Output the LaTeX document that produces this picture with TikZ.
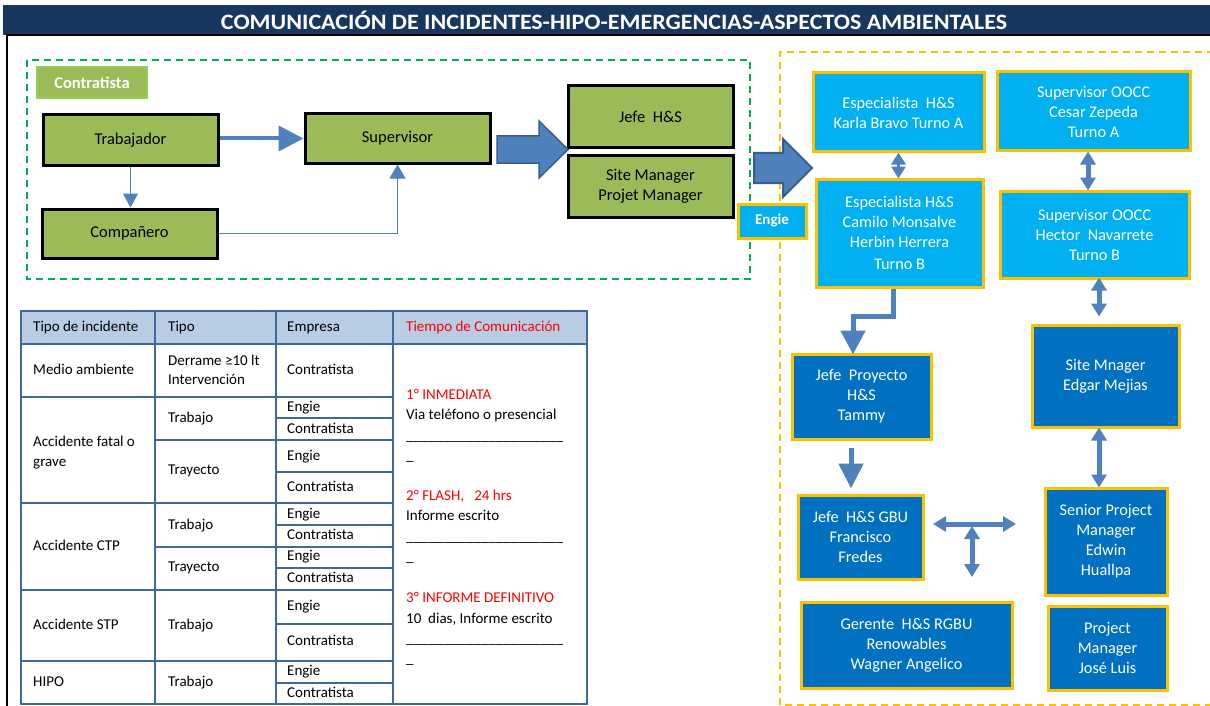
\documentclass[tikz,border=0pt]{standalone}
\usepackage{fontspec}
\setmainfont{Carlito}
\usetikzlibrary{arrows.meta,calc}
\definecolor{navy}{HTML}{17375E}
\definecolor{gfill}{HTML}{9BBB59}
\definecolor{glabel}{HTML}{92D050}
\definecolor{gdash}{HTML}{00B050}
\definecolor{odash}{HTML}{FFC000}
\definecolor{lblue}{HTML}{00B0F0}
\definecolor{dblue}{HTML}{0070C0}
\definecolor{ablue}{HTML}{4F81BD}
\definecolor{aedge}{HTML}{385D8A}
\definecolor{tline}{HTML}{41679B}
\definecolor{thead}{HTML}{B8CCE4}
\definecolor{tred}{HTML}{FF0000}
\begin{document}
\begin{tikzpicture}[x=1pt,y=-1pt,
  gbox/.style={draw=black,line width=3pt,fill=gfill,inner sep=0pt,align=center,font=\fontsize{16.5}{20}\selectfont},
  bbox/.style={draw=odash,line width=3pt,fill=lblue,text=white,inner sep=0pt,align=center,font=\fontsize{16.3}{20}\selectfont},
  dbox/.style={bbox,fill=dblue},
  tt/.style={anchor=west,inner sep=0pt,text height=10pt,text depth=3pt,font=\fontsize{15}{18}\selectfont},
  tb/.style={anchor=base west,inner sep=0pt,font=\fontsize{15}{18}\selectfont},
  conn/.style={draw=ablue,color=ablue},
  dhead/.style={{Triangle[width=15pt,length=13pt]}-{Triangle[width=15pt,length=13pt]}}
]
\useasboundingbox (0,0) rectangle (1210,706);
% title
\fill[navy] (3,5) rectangle (1210,35);
\node[font=\fontsize{22}{24}\selectfont\bfseries,text=white,inner sep=0pt,xscale=1.09] (title) at (614,20.5) {COMUNICACIÓN DE INCIDENTES-HIPO-EMERGENCIAS-ASPECTOS AMBIENTALES};
\draw[line width=1.5pt] (7,706) -- (7,35) -- (1210,35);
% dashed frames
\draw[gdash,line width=2pt,dash pattern=on 7pt off 5pt] (27,60) rectangle (750,279);
\draw[odash,line width=2pt,dash pattern=on 7pt off 5pt] (1214,52) -- (780,52) -- (780,705) -- (1214,705);
% left flow
\node[draw=glabel,line width=2pt,fill=gfill,text=white,font=\fontsize{16.5}{18}\selectfont\bfseries,minimum width=110pt,minimum height=31pt,inner sep=0pt] (contr) at (92,82.5) {Contratista};
\node[gbox,minimum width=175pt,minimum height=50pt] (trab) at (130.5,140) {Trabajador};
\node[gbox,minimum width=175pt,minimum height=49pt] (comp) at (129.5,233.5) {Compañero};
\node[gbox,minimum width=185pt,minimum height=49pt] (sup) at (397.5,138.5) {Supervisor};
\node[gbox,minimum width=165pt,minimum height=62pt] (jefe) at (650.5,117) {Jefe\ \ H\&S};
\node[gbox,minimum width=165pt,minimum height=61pt] (site) at (650.5,186.5) {Site Manager\\Projet Manager};
\draw[conn,line width=4pt,-{Triangle[width=25pt,length=25pt]}] (trab.east |- sup.west) -- (sup.west);
\draw[conn,line width=1pt,-{Triangle[width=15pt,length=14pt]}] (trab.south) -- (trab.south |- comp.north);
\draw[conn,line width=1pt,-{Triangle[width=16pt,length=14pt]}] (comp.east) -| (sup.south);
% block arrows
\filldraw[fill=ablue,draw=aedge,line width=1.5pt] (497,136) -- (539,136) -- (539,121) -- (568,149.5) -- (539,178) -- (539,163) -- (497,163) -- cycle;
\filldraw[fill=ablue,draw=aedge,line width=2pt] (754,153) -- (783,153) -- (783,139) -- (812,168) -- (783,197) -- (783,183) -- (754,183) -- cycle;
\node[draw=odash,line width=3pt,fill=lblue,text=white,font=\fontsize{15}{18}\selectfont\bfseries,minimum width=68pt,minimum height=34pt,inner sep=0pt] (engie) at (772,221) {Engie};
% right boxes
\node[bbox,minimum width=171pt,minimum height=79pt] (esp1) at (898.5,112.5) {Especialista\ \ H\&S\\Karla Bravo Turno A};
\node[bbox,minimum width=167pt,minimum height=108pt] (esp2) at (899.5,233) {Especialista H\&S\\Camilo Monsalve\\Herbin Herrera\\[2pt]Turno B};
\node[bbox,minimum width=193pt,minimum height=79pt] (sup1) at (1093.5,111.5) {Supervisor OOCC\\Cesar Zepeda\\Turno A};
\node[bbox,minimum width=189pt,minimum height=87pt] (sup2) at (1094.5,234.5) {Supervisor OOCC\\Hector\ \ Navarrete\\Turno B};
\node[dbox,minimum width=147pt,minimum height=102pt] (sitem) at (1105.5,376) {Site Mnager\\Edgar Mejias};
\node[dbox,minimum width=139pt,minimum height=85pt] (jefep) at (861.5,396.5) {Jefe\ \ Proyecto\\H\&S\\Tammy};
\node[dbox,minimum width=125pt,minimum height=84pt] (gbu) at (860.5,537) {Jefe\ \ H\&S GBU\\Francisco\\Fredes};
\node[dbox,minimum width=122pt,minimum height=107pt] (senior) at (1106,541.5) {Senior Project\\Manager\\Edwin\\Huallpa};
\node[dbox,minimum width=211pt,minimum height=86pt] (ger) at (906.5,645) {Gerente\ \ H\&S RGBU\\Renowables\\Wagner Angelico};
\node[dbox,minimum width=119pt,minimum height=84pt] (pm) at (1107.5,648) {Project\\Manager\\José Luis};
% right connectors
\draw[conn,line width=3pt,{Triangle[width=14pt,length=12pt]}-{Triangle[width=14pt,length=12pt]}] ([yshift=1pt]esp1.south) -- ([yshift=-1pt]esp1.south |- esp2.north);
\draw[conn,line width=5pt,dhead] ([xshift=-5.5pt,yshift=1pt]sup1.south) -- ([xshift=-5.5pt,yshift=-1pt]sup1.south |- sup2.north);
\draw[conn,line width=5pt,dhead,shorten >=7pt] ([xshift=4.5pt,yshift=2pt]sup2.south) -- ([xshift=4.5pt]sup2.south |- sitem.north);
\draw[conn,line width=5pt,dhead] ([xshift=-6.5pt,yshift=1pt]sitem.south) -- ([xshift=-6.5pt,yshift=-1pt]sitem.south |- senior.north);
\draw[conn,line width=5pt,-{Triangle[width=24pt,length=24pt]}] ([xshift=-6.5pt]esp2.south) -- ++(0,28) -| ([xshift=-8.5pt,yshift=-2pt]jefep.north);
\draw[conn,line width=5pt,-{Triangle[width=24pt,length=25pt]},shorten <=7pt,shorten >=5pt] ([xshift=-10.5pt]jefep.south) -- ([xshift=-10.5pt]jefep.south |- gbu.north);
\coordinate (tl) at (933,524);
\coordinate (tr) at (1016,524);
\coordinate (tm) at (972,526);
\coordinate (tbot) at (972,577);
\draw[conn,line width=5pt,dhead] (tl) -- (tr);
\draw[conn,line width=5pt,dhead] (tm) -- (tbot);
% table
\fill[thead] (21,311) rectangle (587,344);
\begin{scope}[tline,line width=2pt]
\draw (21,311) rectangle (587,704);
\draw (155,311) -- (155,704) (276,311) -- (276,704) (393,311) -- (393,704);
\draw (21,344) -- (587,344);
\draw (21,397) -- (393,397) (21,503) -- (393,503) (21,590) -- (393,590) (21,661) -- (393,661);
\draw (155,440) -- (393,440) (155,547) -- (393,547);
\draw (276,418) -- (393,418) (276,472) -- (393,472) (276,525) -- (393,525) (276,568) -- (393,568) (276,624) -- (393,624) (276,683) -- (393,683);
\end{scope}
\node[tt] (h1) at (33,328) {Tipo de incidente};
\node[tt] (h2) at (168,328) {Tipo};
\node[tt] (h3) at (287,328) {Empresa};
\node[tt,text=tred] (h4) at (406,328) {Tiempo de Comunicación};
\node[tt] (r1a) at (33,371) {Medio ambiente};
\node[tt] (r1b) at (168,362) {Derrame ≥10 lt};
\node[tt] (r1c) at (168,381) {Intervención};
\node[tt] (r1d) at (287,371) {Contratista};
\node[tt] (r2a) at (33,443) {Accidente fatal o};
\node[tt] (r2b) at (33,463) {grave};
\node[tt] (r2c) at (168,419) {Trabajo};
\node[tt] (r2d) at (168,471) {Trayecto};
\node[tt] (r2e) at (287,408) {Engie};
\node[tt] (r2f) at (287,430) {Contratista};
\node[tt] (r2g) at (287,457) {Engie};
\node[tt] (r2h) at (287,488) {Contratista};
\node[tt] (r3a) at (33,547) {Accidente CTP};
\node[tt] (r3b) at (168,526) {Trabajo};
\node[tt] (r3c) at (168,568) {Trayecto};
\node[tt] (r3d) at (287,515) {Engie};
\node[tt] (r3e) at (287,536) {Contratista};
\node[tt] (r3f) at (287,557) {Engie};
\node[tt] (r3g) at (287,579) {Contratista};
\node[tt] (r4a) at (33,626) {Accidente STP};
\node[tt] (r4b) at (168,626) {Trabajo};
\node[tt] (r4c) at (287,607) {Engie};
\node[tt] (r4d) at (287,642) {Contratista};
\node[tt] (r5a) at (33,683) {HIPO};
\node[tt] (r5b) at (168,683) {Trabajo};
\node[tt] (r5c) at (287,672) {Engie};
\node[tt] (r5d) at (287,694) {Contratista};
% tiempo column
\node[tb,text=tred] (t1) at (406,399) {1° INMEDIATA};
\node[tb] (t2) at (406,419) {Via teléfono o presencial};
\node[tb] (t3) at (406,440) {\_\_\_\_\_\_\_\_\_\_\_\_\_\_\_\_\_\_\_\_\_};
\node[tb] (t4) at (406,460) {\_};
\node[tb,text=tred] (t5) at (406,500) {2° FLASH,\ \ \ 24 hrs};
\node[tb] (t6) at (406,520) {Informe escrito};
\node[tb] (t7) at (406,541) {\_\_\_\_\_\_\_\_\_\_\_\_\_\_\_\_\_\_\_\_\_};
\node[tb] (t8) at (406,561) {\_};
\node[tb,text=tred] (t9) at (406,602) {3° INFORME DEFINITIVO};
\node[tb] (t10) at (406,623) {10\ \ dias, Informe escrito};
\node[tb] (t11) at (406,643) {\_\_\_\_\_\_\_\_\_\_\_\_\_\_\_\_\_\_\_\_\_};
\node[tb] (t12) at (406,663) {\_};
\end{tikzpicture}
\end{document}
